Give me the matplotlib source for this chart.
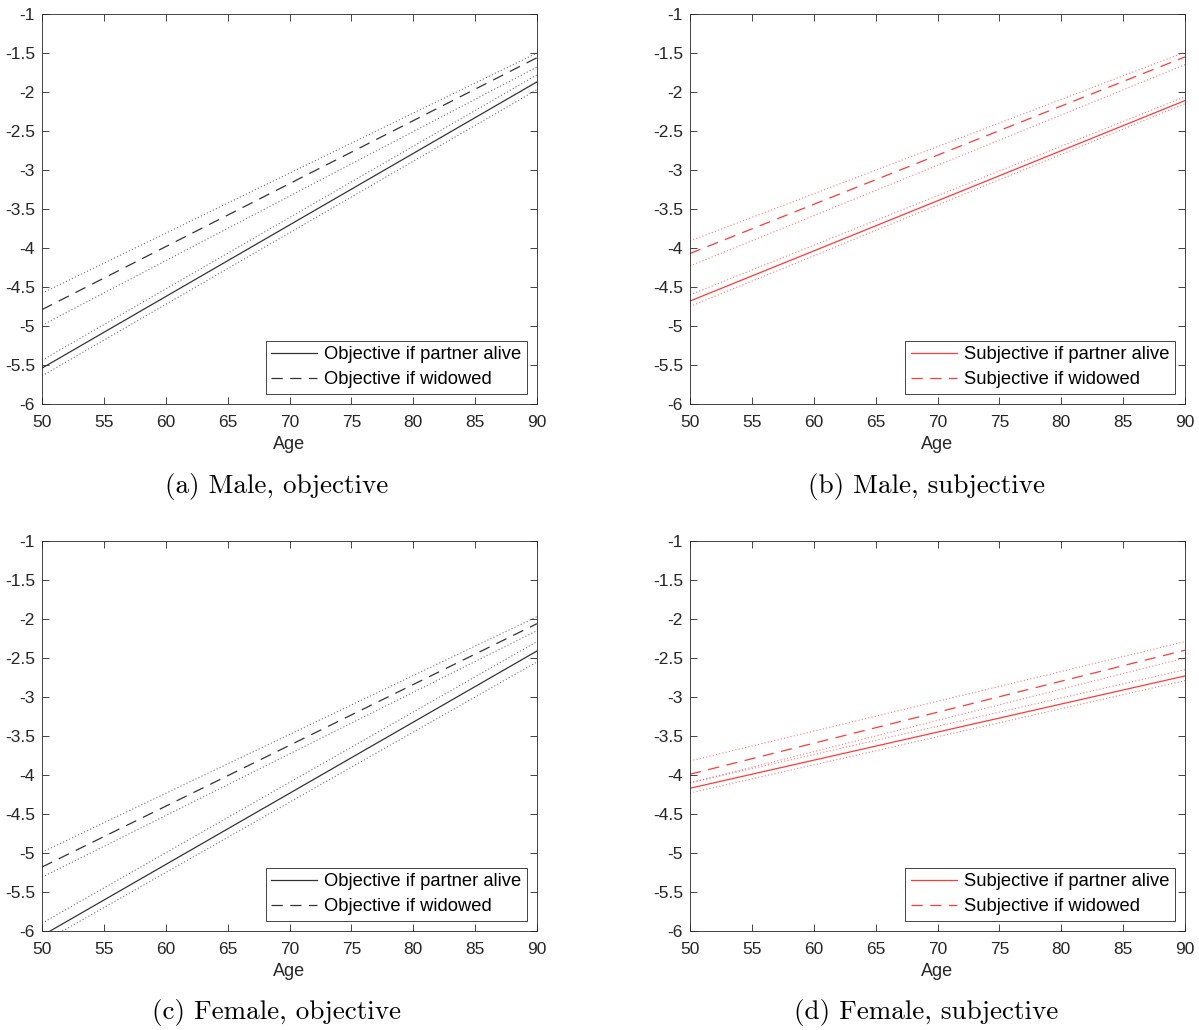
import numpy as np
import matplotlib
matplotlib.use("Agg")
import matplotlib.pyplot as plt

plt.rcParams['font.family'] = ['Liberation Sans', 'DejaVu Sans']
plt.rcParams['axes.unicode_minus'] = False

# Age range of the fitted lines
ages = [50, 90]

# Each series: [value at 50, value at 90]
# (a) Male, objective
a_alive = [-5.54, -1.87]
a_alive_lo = [-5.64, -1.97]
a_alive_hi = [-5.44, -1.78]
a_wid = [-4.79, -1.56]
a_wid_lo = [-4.99, -1.68]
a_wid_hi = [-4.58, -1.50]

# (b) Male, subjective
b_alive = [-4.68, -2.11]
b_alive_lo = [-4.75, -2.15]
b_alive_hi = [-4.60, -2.06]
b_wid = [-4.07, -1.55]
b_wid_lo = [-4.23, -1.65]
b_wid_hi = [-3.91, -1.49]

# (c) Female, objective
c_alive = [-6.06, -2.41]
c_alive_lo = [-6.15, -2.55]
c_alive_hi = [-5.90, -2.29]
c_wid = [-5.18, -2.06]
c_wid_lo = [-5.31, -2.15]
c_wid_hi = [-4.99, -1.97]

# (d) Female, subjective
d_alive = [-4.17, -2.73]
d_alive_lo = [-4.23, -2.79]
d_alive_hi = [-4.10, -2.65]
d_wid = [-3.99, -2.40]
d_wid_lo = [-4.10, -2.50]
d_wid_hi = [-3.82, -2.29]

x_ticks = [50, 55, 60, 65, 70, 75, 80, 85, 90]
y_ticks = [-6, -5.5, -5, -4.5, -4, -3.5, -3, -2.5, -2, -1.5, -1]

captions = ["(a) Male, objective", "(b) Male, subjective",
            "(c) Female, objective", "(d) Female, subjective"]

AX_COLOR = "#262626"
BLACK = "#333333"
RED = "#ff3a3a"


def draw_panel(ax, alive, alive_lo, alive_hi, wid, wid_lo, wid_hi, color, kind):
    ax.plot(ages, alive, color=color, lw=0.9, ls='-',
            label=f"{kind} if partner alive")
    ax.plot(ages, wid, color=color, lw=0.9, ls=(0, (9, 6)),
            label=f"{kind} if widowed")
    for s in (alive_lo, alive_hi, wid_lo, wid_hi):
        ax.plot(ages, s, color=color, lw=0.8, ls=(0, (1, 2)), alpha=0.7)

    ax.set_xlim(50, 90)
    ax.set_ylim(-6, -1)
    ax.set_xticks(x_ticks)
    ax.set_yticks(y_ticks)
    ax.set_xticklabels([f"{v:g}" for v in x_ticks])
    ax.set_yticklabels([f"{v:g}" for v in y_ticks])
    ax.tick_params(direction='in', top=True, right=True, length=5,
                   width=0.6, colors=AX_COLOR, labelsize=12.5, pad=5)
    ax.tick_params(axis='x', pad=8)
    for sp in ax.spines.values():
        sp.set_color(AX_COLOR)
        sp.set_linewidth(0.6)
    ax.set_xlabel("Age", fontsize=13, color=AX_COLOR, labelpad=4)
    leg = ax.legend(loc='lower right', fontsize=13.2, handlelength=2.5,
                    handletextpad=0.4, borderpad=0.3, labelspacing=0.45,
                    fancybox=False, framealpha=1, borderaxespad=0.55)
    leg.get_frame().set_edgecolor(AX_COLOR)
    leg.get_frame().set_linewidth(0.6)
    for t in leg.get_texts():
        t.set_color("black")


fig = plt.figure(figsize=(11.99, 10.30), dpi=100)
W, H = 1199, 1030
ax_w = 495 / W
ax_h = 390 / H
lefts = [42 / W, 690 / W]
bottoms = [1 - 404 / H, 1 - 931 / H]

panels = [
    (a_alive, a_alive_lo, a_alive_hi, a_wid, a_wid_lo, a_wid_hi, BLACK, "Objective"),
    (b_alive, b_alive_lo, b_alive_hi, b_wid, b_wid_lo, b_wid_hi, RED, "Subjective"),
    (c_alive, c_alive_lo, c_alive_hi, c_wid, c_wid_lo, c_wid_hi, BLACK, "Objective"),
    (d_alive, d_alive_lo, d_alive_hi, d_wid, d_wid_lo, d_wid_hi, RED, "Subjective"),
]
caption_x = [277 / W, 926 / W]
caption_y = [1 - 486 / H, 1 - 1013 / H]

for i, p in enumerate(panels):
    r, c = divmod(i, 2)
    ax = fig.add_axes([lefts[c], bottoms[r], ax_w, ax_h])
    draw_panel(ax, *p)
    fig.text(caption_x[c], caption_y[r], captions[i], ha='center', va='center',
             fontsize=19.5, family=['cmr10', 'DejaVu Serif'], color='black')

plt.savefig("out.png", dpi=100)
